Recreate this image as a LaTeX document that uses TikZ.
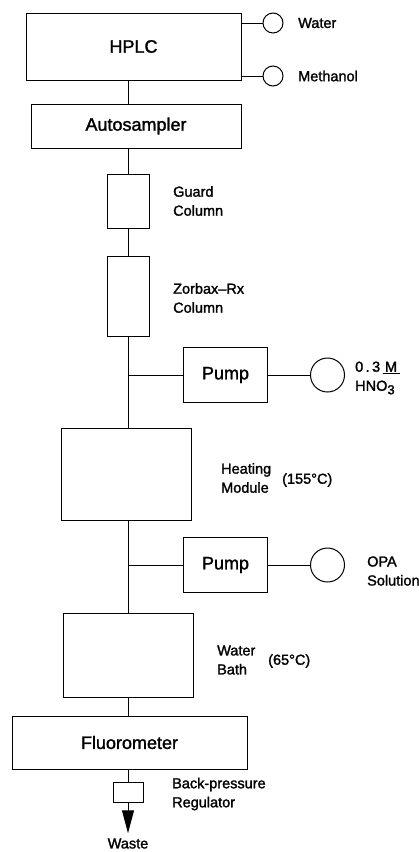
\documentclass[tikz,border=0pt]{standalone}
\usepackage{fontspec}
\setmainfont[FakeBold=1.6,AutoFakeBold=1.6]{Liberation Sans}
\usetikzlibrary{arrows.meta,positioning}
\newcommand{\unitfont}{\fontsize{18}{21}\selectfont\bfseries}
\newcommand{\notefont}{\fontsize{14.5}{19}\selectfont\bfseries}

\begin{document}
\begin{tikzpicture}[x=1pt,y=-1pt,
          unit/.style={draw,line width=1pt,inner sep=0pt,font=\unitfont},
          reservoir/.style={circle,draw,line width=1pt,inner sep=0pt},
          note/.style={anchor=west,align=left,inner sep=0pt,font=\notefont},
          pipe/.style={line width=1pt},
          drain/.style={-{Triangle[length=23pt,width=12pt]},line width=1pt}]
        \useasboundingbox (0,0) rectangle (419,852);
        % everything hangs on one vertical flow line
        \coordinate (spine) at (128,0);
        \node[unit,minimum width=215pt,minimum height=67pt] (hplc) at (133.5,46.5) {HPLC};
        \node[unit,minimum width=210pt,minimum height=44pt] (autosampler) at (136,126) {Autosampler};
        \node[unit,minimum width=42pt,minimum height=54pt] (guard) at (128,201) {};
        \node[unit,minimum width=42pt,minimum height=80pt] (zorbax) at (128,296) {};
        \node[unit,minimum width=130pt,minimum height=92pt] (heater) at (126,474) {};
        \node[unit,minimum width=130pt,minimum height=84pt] (bath) at (128,655) {};
        \node[unit,minimum width=235pt,minimum height=53pt] (fluoro) at (129.5,742.5) {Fluorometer};
        \node[unit,minimum width=30pt,minimum height=20pt] (regulator) at (128,792) {};
        \node[font=\notefont,inner sep=0pt] (waste) at (128,843.5) {Waste};
        % solvent reservoirs of the HPLC
        \foreach \name/\y/\text in {water/23/Water,methanol/76/Methanol}{%
          \node[reservoir,minimum size=20pt] (\name) at (273,\y) {};
          \node[note] (\name Label) at (298,\y) {\text};
          \draw[pipe] (hplc.east |- \name) -- (\name);
        }
        % post-column reagent pumps
        \foreach \i/\y/\feed in {A/375/acid,B/565/opa}{%
          \coordinate (tee\i) at (128,\y);
          \node[unit,minimum width=84pt,minimum height=55pt] (pump\i) at (225.5,\y) {Pump};
          \node[reservoir,minimum size=34pt] (\feed) at (327.5,\y) {};
          \draw[pipe] (tee\i) -- (pump\i) -- (\feed);
        }
        \node[note] (guardLabel) at (173,201) {Guard\\Column};
        \node[note] (zorbaxLabel) at (173,298) {Zorbax--Rx\\Column};
        \node[note] (acidLabel) at (355,378)
          {0\,.\,3\,\underline{\,M\,}\\HNO\raisebox{-3.5pt}{\fontsize{13}{13}\selectfont 3}};
        \node[note] (heaterLabel) at (221,478) {Heating\\Module};
        \node[note] (heaterTemp) at (282,480) {(155°C)};
        \node[note] (opaLabel) at (367,571) {OPA\\Solution};
        \node[note] (bathLabel) at (217,660) {Water\\Bath};
        \node[note] (bathTemp) at (268,661) {(65°C)};
        \node[note] (regulatorLabel) at (172,794) {Back-pressure\\Regulator};
        \draw[pipe] (hplc.south -| spine) -- (autosampler.north -| spine);
        \draw[pipe] (autosampler.south -| spine) -- (guard);
        \draw[pipe] (guard) -- (zorbax);
        \draw[pipe] (zorbax) -- (heater.north -| spine);
        \draw[pipe] (heater.south -| spine) -- (bath.north -| spine);
        \draw[pipe] (bath.south -| spine) -- (fluoro.north -| spine);
        \draw[pipe] (fluoro.south -| spine) -- (regulator);
        \draw[drain] (regulator) -- ([yshift=5pt]waste.north);
      \end{tikzpicture}
\end{document}
